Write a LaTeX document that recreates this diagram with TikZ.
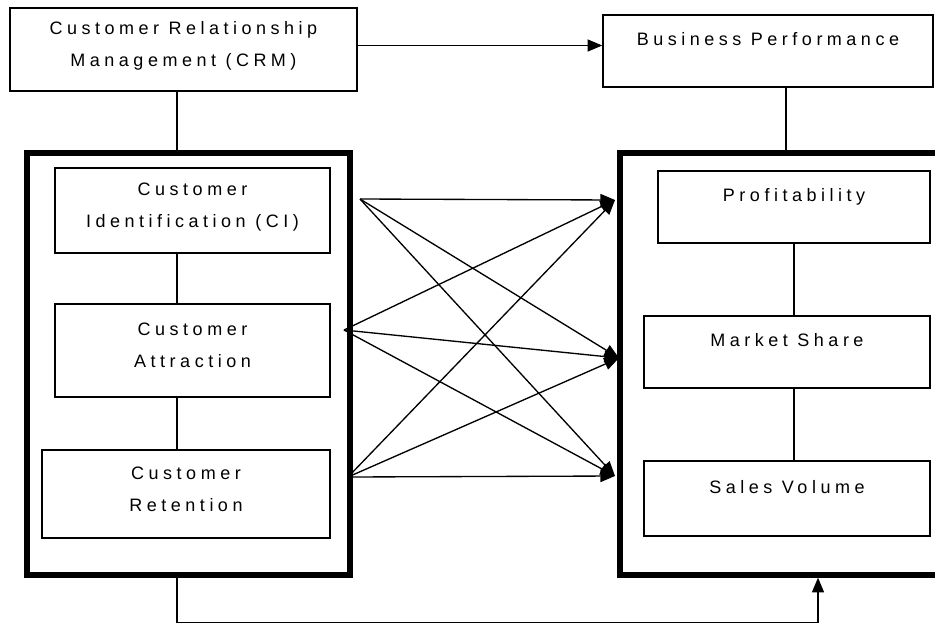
\documentclass[tikz,border=0pt]{standalone}
\usepackage{fontspec}
\usetikzlibrary{arrows.meta}
\newfontfamily\boxfont{Liberation Sans}[LetterSpace=25]

\tikzset{
  blk/.style={draw, line width=1.1pt, align=center, inner sep=0pt,
    font={\boxfont\fontsize{13.5}{24}\selectfont}, text height=34pt, text depth=8pt},
  blkone/.style={blk, text height=10pt, text depth=17.6pt},
  thickbox/.style={draw, line width=4pt, inner sep=0pt},
  lnk/.style={line width=1pt},
  arr/.style={lnk, -{Triangle[length=11pt,width=9pt]}}
}

\begin{document}
\begin{tikzpicture}[x=0.75pt,y=0.75pt,yscale=-1,xscale=1]
%page frame, the right panel runs off the edge
\useasboundingbox (0,0) rectangle (935,622);
\clip (0,0) rectangle (935,622);

%Top boxes
\node [blk, minimum width=260.25pt, minimum height=62.25pt] (crm) at (183.5,49.5) {Customer Relationship\\Management (CRM)};
\node [blkone, minimum width=247.5pt, minimum height=54pt] (bp) at (768,51) {Business Performance};

%Thick panels
\node [thickbox, minimum width=242.25pt, minimum height=316.5pt] (lft) at (188.5,364) {};
\node [thickbox, minimum width=256.5pt, minimum height=316.5pt] (rgt) at (791,364) {};

%Left panel boxes
\node [blk, minimum width=206.25pt, minimum height=63.75pt] (ci) at (192.5,210.5) {Customer\\Identification (CI)};
\node [blk, minimum width=206.25pt, minimum height=69.75pt] (attr) at (192.5,350.5) {Customer\\Attraction};
\node [blk, minimum width=216pt, minimum height=66pt] (ret) at (186,494) {Customer\\Retention};

%Right panel boxes
\node [blkone, minimum width=204pt, minimum height=54pt] (prof) at (794,207) {Profitability};
\node [blkone, minimum width=214.5pt, minimum height=54pt] (ms) at (787,352) {Market Share};
\node [blkone, minimum width=214.5pt, minimum height=56.25pt] (sv) at (787,498.5) {Sales Volume};

%Guide points for the vertical links
\coordinate (lx) at (177,0);
\coordinate (bx) at (786,0);
\coordinate (rx) at (794,0);
\coordinate (fx) at (818,0);

%Vertical links
\draw [lnk] (crm.south -| lx) -- (lft.north -| lx);
\draw [lnk] (ci.south -| lx) -- (attr.north -| lx);
\draw [lnk] (attr.south -| lx) -- (ret.north -| lx);
\draw [lnk] (bp.south -| bx) -- (rgt.north -| bx);
\draw [lnk] (prof.south -| rx) -- (ms.north -| rx);
\draw [lnk] (ms.south -| rx) -- (sv.north -| rx);

%CRM to performance
\draw [arr] ([yshift=-3pt]crm.east) -- ([yshift=-3pt]crm.east -| bp.west);

%Feedback along the bottom
\draw [arr] (lft.south -| lx) -- ++(0,45) -| (rgt.south -| fx);

%Ends of the cross links
\coordinate (s1) at (360,199);
\coordinate (s2) at (344,330);
\coordinate (s3) at (348,477);
\coordinate (t1) at (615,200);
\coordinate (t2) at (619,358);
\coordinate (t3) at (615,476);

%Cross links
\draw [arr] (s1) -- (t1);
\draw [arr] (s1) -- (t2);
\draw [arr] (s1) -- (t3);
\draw [arr] (s2) -- (t1);
\draw [arr] (s2) -- (t2);
\draw [arr] (s2) -- (t3);
\draw [arr] (s3) -- (t1);
\draw [arr] (s3) -- (t2);
\draw [arr] (s3) -- (t3);

\end{tikzpicture}
\end{document}
